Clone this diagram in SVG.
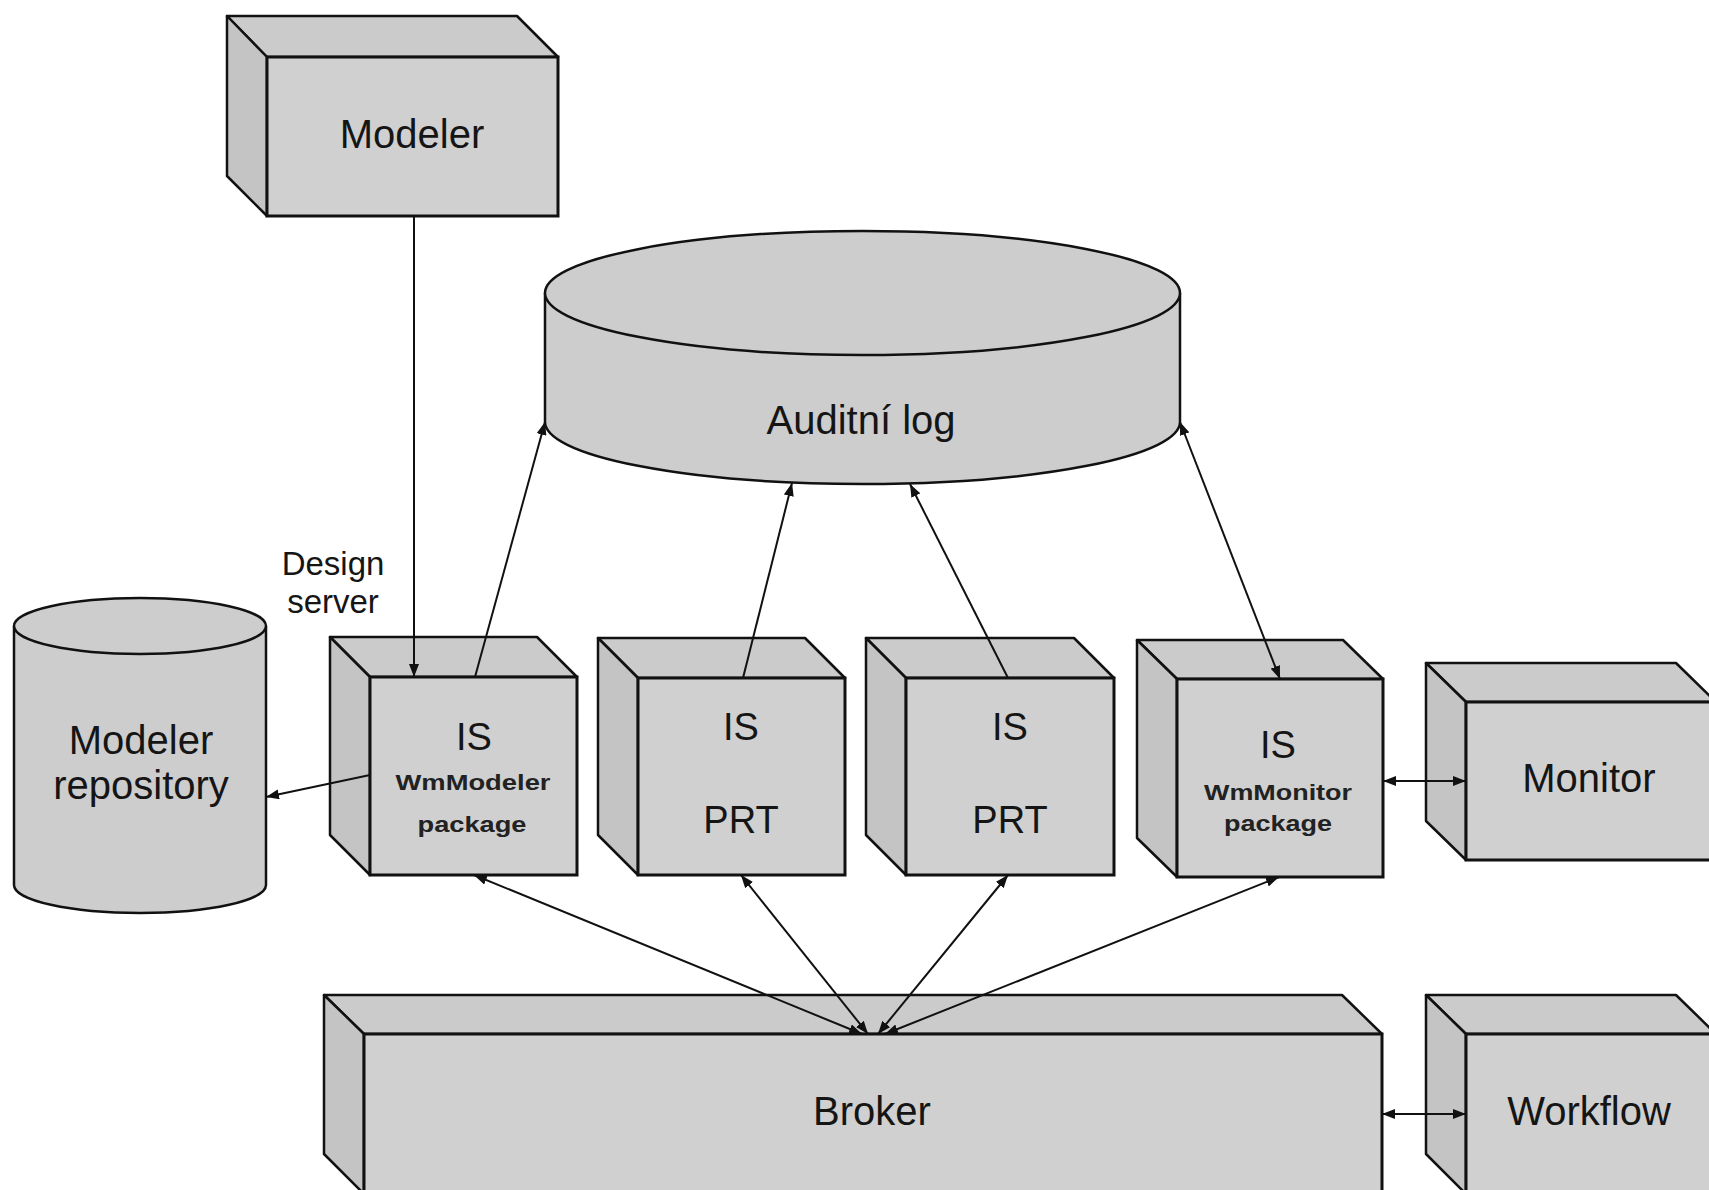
<svg xmlns="http://www.w3.org/2000/svg" width="1709" height="1190" viewBox="0 0 1709 1190">
<style>
  .top{fill:#cbcbcb;stroke:#111;stroke-width:2.5;stroke-linejoin:round}
  .side{fill:#c4c4c4;stroke:#111;stroke-width:2.5;stroke-linejoin:round}
  .front{fill:#d0d0d0;stroke:#111;stroke-width:3}
  .cyl{fill:#cdcdcd;stroke:#111;stroke-width:2.5}
  .big{font-family:"Liberation Sans",Arial,sans-serif;font-size:40px;fill:#151515;text-anchor:middle}
  .is{font-family:"Liberation Sans",Arial,sans-serif;font-size:38px;fill:#151515;text-anchor:middle}
  .small{font-family:"Liberation Sans",Arial,sans-serif;font-size:22px;font-weight:bold;fill:#222;text-anchor:middle}
  .lbl{font-family:"Liberation Sans",Arial,sans-serif;font-size:33px;fill:#151515;text-anchor:middle}
  .con{stroke:#111;stroke-width:2;fill:none}
</style>
<defs>
  <marker id="ah" markerUnits="userSpaceOnUse" markerWidth="13" markerHeight="10" refX="13" refY="5" orient="auto-start-reverse">
    <path d="M0,0 L13,5 L0,10 z" fill="#111"/>
  </marker>
</defs>
<rect width="1709" height="1190" fill="#fff"/>

<g id="modeler">
  <polygon class="top" points="227,16 517,16 558,57 267,57"/>
  <polygon class="side" points="227,16 267,57 267,216 227,176"/>
  <rect class="front" x="267" y="57" width="291" height="159"/>
  <text class="big" x="412" y="148">Modeler</text>
</g>

<g id="auditni-log">
  <path class="cyl" d="M545,293 L545,422 A317.5,62 0 0 0 1180,422 L1180,293"/>
  <ellipse class="cyl" cx="862.5" cy="293" rx="317.5" ry="62"/>
  <text class="big" x="861" y="434">Auditní log</text>
</g>

<g id="modeler-repository">
  <path class="cyl" d="M14,626 L14,885 A126,28 0 0 0 266,885 L266,626"/>
  <ellipse class="cyl" cx="140" cy="626" rx="126" ry="28"/>
  <text class="big" x="141" y="754">Modeler</text>
  <text class="big" x="141" y="799">repository</text>
</g>

<g id="design-server-label">
  <text class="lbl" x="333" y="575">Design</text>
  <text class="lbl" x="333" y="613">server</text>
</g>

<g id="is-wmmodeler">
  <polygon class="top" points="330,637 537,637 577,677 370,677"/>
  <polygon class="side" points="330,637 370,677 370,875 330,835"/>
  <rect class="front" x="370" y="677" width="207" height="198"/>
  <text class="is" x="474" y="750">IS</text>
  <text class="small" x="473" y="790" textLength="155" lengthAdjust="spacingAndGlyphs">WmModeler</text>
  <text class="small" x="472" y="832" textLength="109" lengthAdjust="spacingAndGlyphs">package</text>
</g>

<g id="is-prt-1">
  <polygon class="top" points="598,638 805,638 845,678 638,678"/>
  <polygon class="side" points="598,638 638,678 638,875 598,835"/>
  <rect class="front" x="638" y="678" width="207" height="197"/>
  <text class="is" x="741" y="740">IS</text>
  <text class="is" x="741" y="833">PRT</text>
</g>

<g id="is-prt-2">
  <polygon class="top" points="866,638 1074,638 1114,678 906,678"/>
  <polygon class="side" points="866,638 906,678 906,875 866,835"/>
  <rect class="front" x="906" y="678" width="208" height="197"/>
  <text class="is" x="1010" y="740">IS</text>
  <text class="is" x="1010" y="833">PRT</text>
</g>

<g id="is-wmmonitor">
  <polygon class="top" points="1137,640 1343,640 1383,679 1177,679"/>
  <polygon class="side" points="1137,640 1177,679 1177,877 1137,838"/>
  <rect class="front" x="1177" y="679" width="206" height="198"/>
  <text class="is" x="1278" y="758">IS</text>
  <text class="small" x="1278" y="800" textLength="148" lengthAdjust="spacingAndGlyphs">WmMonitor</text>
  <text class="small" x="1278" y="831" textLength="108" lengthAdjust="spacingAndGlyphs">package</text>
</g>

<g id="monitor">
  <polygon class="top" points="1426,663 1676,663 1716,702 1466,702"/>
  <polygon class="side" points="1426,663 1466,702 1466,860 1426,821"/>
  <rect class="front" x="1466" y="702" width="250" height="158"/>
  <text class="big" x="1589" y="792">Monitor</text>
</g>

<g id="broker">
  <polygon class="top" points="324,995 1342,995 1382,1034 364,1034"/>
  <polygon class="side" points="324,995 364,1034 364,1194 324,1154"/>
  <rect class="front" x="364" y="1034" width="1018" height="160"/>
  <text class="big" x="872" y="1125">Broker</text>
</g>

<g id="workflow">
  <polygon class="top" points="1426,995 1676,995 1716,1034 1466,1034"/>
  <polygon class="side" points="1426,995 1466,1034 1466,1194 1426,1154"/>
  <rect class="front" x="1466" y="1034" width="250" height="160"/>
  <text class="big" x="1589" y="1125">Workflow</text>
</g>

<g id="connectors">
  <line class="con" x1="414" y1="216" x2="414" y2="677" marker-end="url(#ah)"/>
  <line class="con" x1="475" y1="677" x2="545" y2="422" marker-end="url(#ah)"/>
  <line class="con" x1="743" y1="678" x2="792" y2="483" marker-end="url(#ah)"/>
  <line class="con" x1="1008" y1="678" x2="910" y2="484" marker-end="url(#ah)"/>
  <line class="con" x1="1180" y1="422" x2="1280" y2="679" marker-start="url(#ah)" marker-end="url(#ah)"/>
  <line class="con" x1="370" y1="775" x2="266" y2="797" marker-end="url(#ah)"/>
  <line class="con" x1="862" y1="1034" x2="474" y2="875" marker-start="url(#ah)" marker-end="url(#ah)"/>
  <line class="con" x1="868" y1="1034" x2="741" y2="875" marker-start="url(#ah)" marker-end="url(#ah)"/>
  <line class="con" x1="878" y1="1034" x2="1008" y2="875" marker-start="url(#ah)" marker-end="url(#ah)"/>
  <line class="con" x1="885" y1="1034" x2="1279" y2="877" marker-start="url(#ah)" marker-end="url(#ah)"/>
  <line class="con" x1="1383" y1="781" x2="1466" y2="781" marker-start="url(#ah)" marker-end="url(#ah)"/>
  <line class="con" x1="1382" y1="1114" x2="1466" y2="1114" marker-start="url(#ah)" marker-end="url(#ah)"/>
</g>
</svg>
